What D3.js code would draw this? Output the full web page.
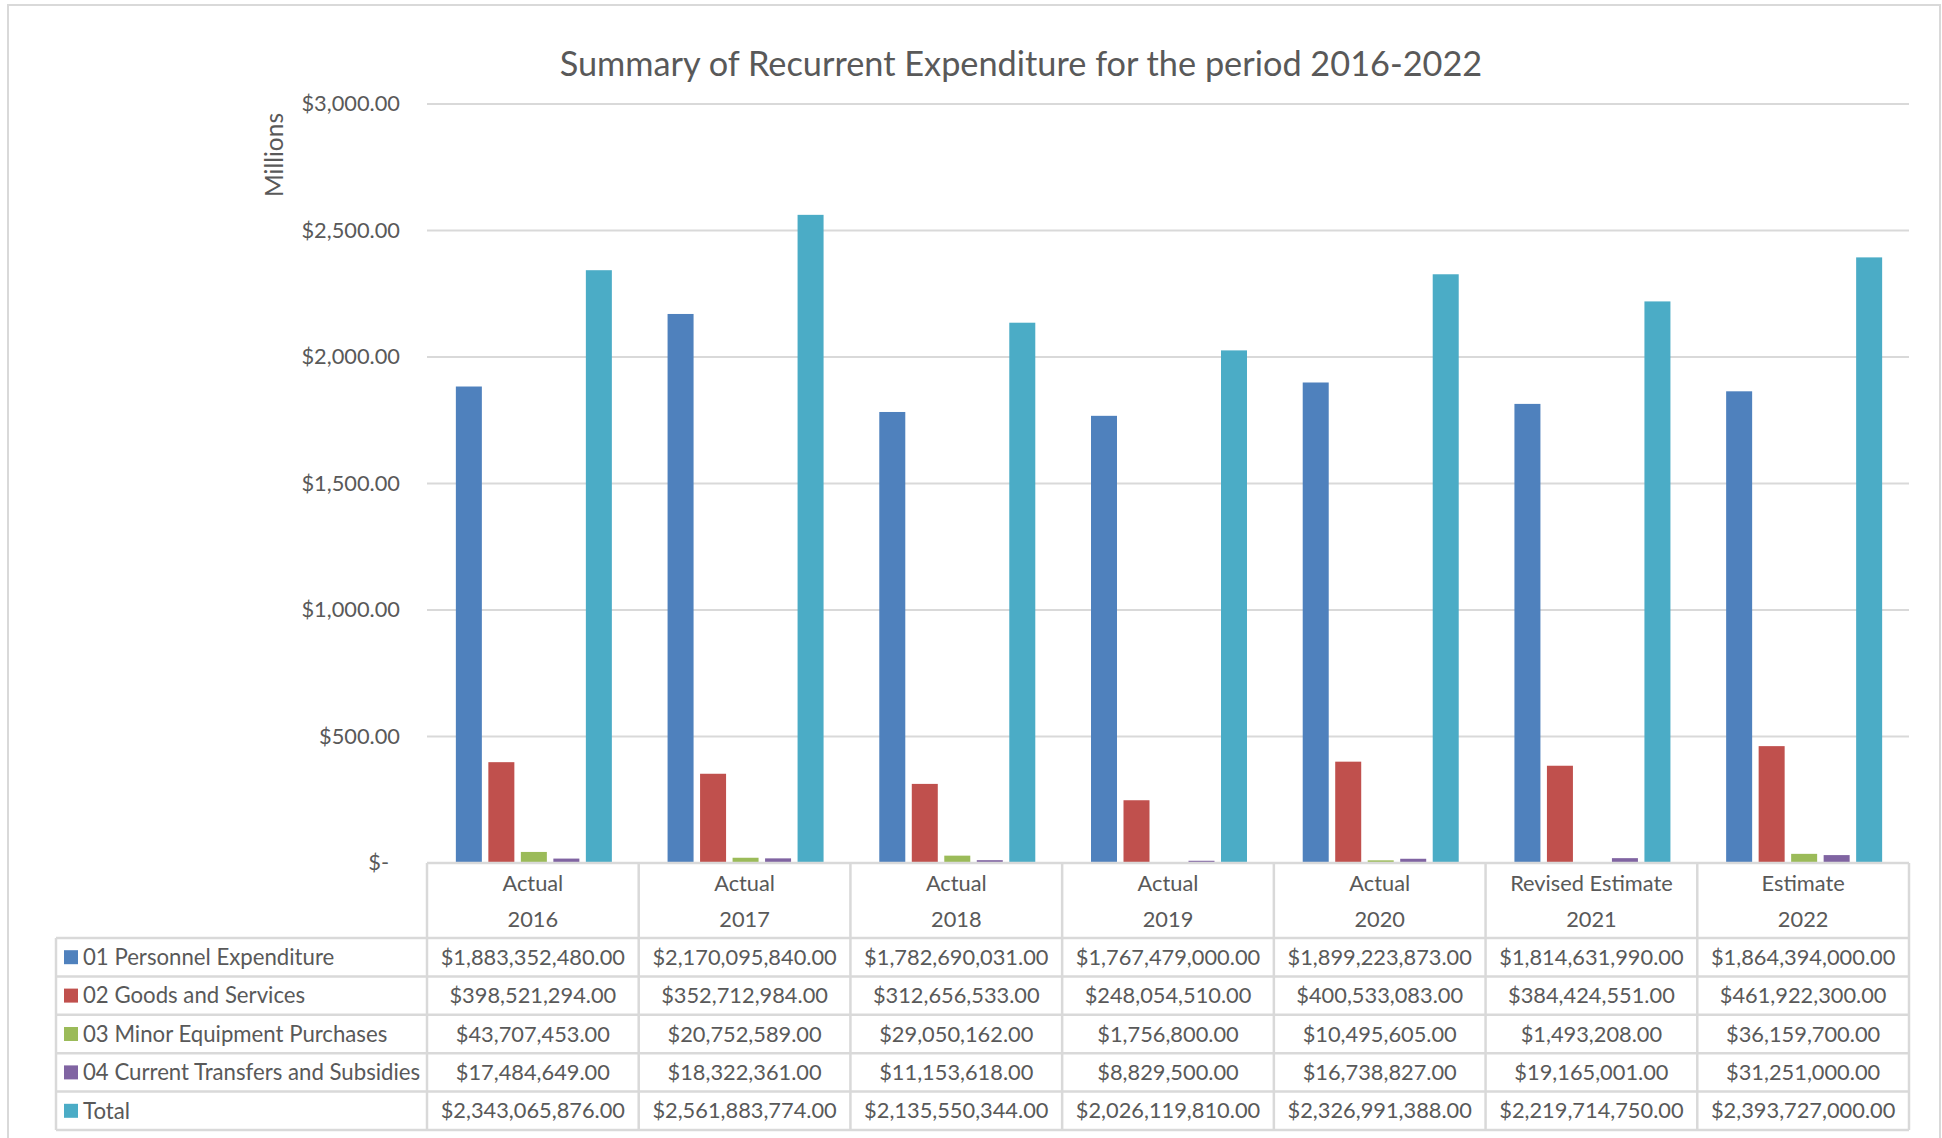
<!DOCTYPE html>
<html>
<head>
<meta charset="utf-8">
<script src="https://cdn.jsdelivr.net/npm/d3@7"></script>
<style>
  body { margin: 0; background: #fff; }
  svg { display: block; font-family: Lato, "Open Sans", sans-serif; }
</style>
</head>
<body>
<svg id="chart" width="1942" height="1138"></svg>
<script>
// chart data
const groupLabels = ['Actual', 'Actual', 'Actual', 'Actual', 'Actual', 'Revised Estimate', 'Estimate'];
const years = ['2016', '2017', '2018', '2019', '2020', '2021', '2022'];
const seriesNames = ['01 Personnel Expenditure', '02 Goods and Services', '03 Minor Equipment Purchases',
  '04 Current Transfers and Subsidies', 'Total'];
const personnel = [1883352480, 2170095840, 1782690031, 1767479000, 1899223873, 1814631990, 1864394000];
const goods = [398521294, 352712984, 312656533, 248054510, 400533083, 384424551, 461922300];
const equipment = [43707453, 20752589, 29050162, 1756800, 10495605, 1493208, 36159700];
const transfers = [17484649, 18322361, 11153618, 8829500, 16738827, 19165001, 31251000];
const totals = [2343065876, 2561883774, 2135550344, 2026119810, 2326991388, 2219714750, 2393727000];
const yTicks = [0, 500, 1000, 1500, 2000, 2500, 3000];

const seriesValues = [personnel, goods, equipment, transfers, totals];
const colors = ['#4F81BD', '#C0504D', '#9BBB59', '#8064A2', '#4BACC6'];
const textColor = '#595959';
const lineColor = '#D9D9D9';

// layout
const plotLeft = 427, plotRight = 1909, plotTop = 104, plotBottom = 863;
const headerBottom = 938, rowH = 38.4, tableLeft = 56;

const svg = d3.select('#chart');

// outer chart border
svg.append('rect')
  .attr('x', 8).attr('y', 5)
  .attr('width', 1932).attr('height', 1150)
  .attr('fill', 'none').attr('stroke', lineColor).attr('stroke-width', 2);

// scales
const x0 = d3.scaleBand()
  .domain(years)
  .range([plotLeft, plotRight]);

const x1 = d3.scaleBand()
  .domain(seriesNames)
  .range([0, 156])
  .paddingInner(0.2);

const y = d3.scaleLinear()
  .domain([0, 3000])
  .range([plotBottom, plotTop]);

const groupOffset = (x0.bandwidth() - 156) / 2 + 1;

// gridlines
svg.append('g')
  .selectAll('line')
  .data(yTicks.filter(d => d > 0))
  .enter()
  .append('line')
  .attr('x1', plotLeft).attr('x2', plotRight)
  .attr('y1', d => y(d)).attr('y2', d => y(d))
  .attr('stroke', lineColor).attr('stroke-width', 2);

// y axis labels
const fmt = d3.format('$,.2f');
const yAxis = svg.append('g')
  .attr('transform', `translate(${plotLeft - 27},0)`)
  .call(d3.axisLeft(y).tickValues(yTicks).tickSize(0).tickPadding(0)
    .tickFormat(d => d === 0 ? '$-' : fmt(d)));
yAxis.select('.domain').remove();
yAxis.selectAll('text')
  .attr('fill', textColor)
  .style('font-size', '21.8px')
  .style('font-family', 'Lato, sans-serif');
yAxis.selectAll('.tick').filter(d => d === 0).select('text').attr('dx', -11);

// axis title
svg.append('text')
  .attr('transform', 'translate(283,155) rotate(-90)')
  .attr('text-anchor', 'middle')
  .attr('fill', textColor)
  .style('font-size', '24.5px')
  .text('Millions');

// chart title
svg.append('text')
  .attr('x', 1021).attr('y', 76)
  .attr('text-anchor', 'middle')
  .attr('fill', textColor)
  .style('font-size', '34.3px')
  .text('Summary of Recurrent Expenditure for the period 2016-2022');

// bars
const groups = svg.append('g')
  .selectAll('g')
  .data(years)
  .enter()
  .append('g')
  .attr('transform', d => `translate(${x0(d) + groupOffset},0)`);

groups.selectAll('rect')
  .data((d, i) => seriesNames.map((s, k) => ({ s, k, v: seriesValues[k][i] / 1e6 })))
  .enter()
  .append('rect')
  .attr('x', d => x1(d.s))
  .attr('width', x1.bandwidth())
  .attr('y', d => y(d.v))
  .attr('height', d => plotBottom - y(d.v))
  .attr('fill', d => colors[d.k]);

// data table
const table = svg.append('g');
const rowTop = i => headerBottom + i * rowH;

// horizontal lines
table.append('line')
  .attr('x1', plotLeft).attr('x2', plotRight)
  .attr('y1', plotBottom).attr('y2', plotBottom)
  .attr('stroke', lineColor).attr('stroke-width', 2.5);
table.selectAll('.hline')
  .data(d3.range(seriesNames.length + 1))
  .enter()
  .append('line')
  .attr('x1', tableLeft).attr('x2', plotRight)
  .attr('y1', d => rowTop(d)).attr('y2', d => rowTop(d))
  .attr('stroke', lineColor).attr('stroke-width', 2.5);

// vertical lines
table.selectAll('.vline')
  .data(years.concat(['end']))
  .enter()
  .append('line')
  .attr('x1', d => d === 'end' ? plotRight : x0(d))
  .attr('x2', d => d === 'end' ? plotRight : x0(d))
  .attr('y1', plotBottom).attr('y2', rowTop(seriesNames.length))
  .attr('stroke', lineColor).attr('stroke-width', 2.5);
table.append('line')
  .attr('x1', tableLeft).attr('x2', tableLeft)
  .attr('y1', headerBottom).attr('y2', rowTop(seriesNames.length))
  .attr('stroke', lineColor).attr('stroke-width', 2.5);

// header cells
const header = table.selectAll('.head')
  .data(years)
  .enter()
  .append('g')
  .attr('transform', d => `translate(${x0(d) + x0.bandwidth() / 2},0)`);
header.append('text')
  .attr('y', 883).attr('dy', '0.35em')
  .attr('text-anchor', 'middle').attr('fill', textColor)
  .style('font-size', '21.8px')
  .text((d, i) => groupLabels[i]);
header.append('text')
  .attr('y', 919).attr('dy', '0.35em')
  .attr('text-anchor', 'middle').attr('fill', textColor)
  .style('font-size', '21.8px')
  .text(d => d);

// rows
const rows = table.selectAll('.row')
  .data(seriesNames)
  .enter()
  .append('g')
  .attr('transform', (d, i) => `translate(0,${rowTop(i) + rowH / 2})`);
rows.append('rect')
  .attr('x', 64).attr('y', -7)
  .attr('width', 14).attr('height', 14)
  .attr('fill', (d, i) => colors[i]);
rows.append('text')
  .attr('x', 83).attr('dy', '0.35em')
  .attr('fill', textColor)
  .style('font-size', '22.2px')
  .text(d => d);
rows.selectAll('.cell')
  .data((d, i) => seriesValues[i])
  .enter()
  .append('text')
  .attr('x', (d, j) => x0(years[j]) + x0.bandwidth() / 2)
  .attr('dy', '0.35em')
  .attr('text-anchor', 'middle')
  .attr('fill', textColor)
  .style('font-size', '21.8px')
  .text(d => fmt(d));
</script>
</body>
</html>
